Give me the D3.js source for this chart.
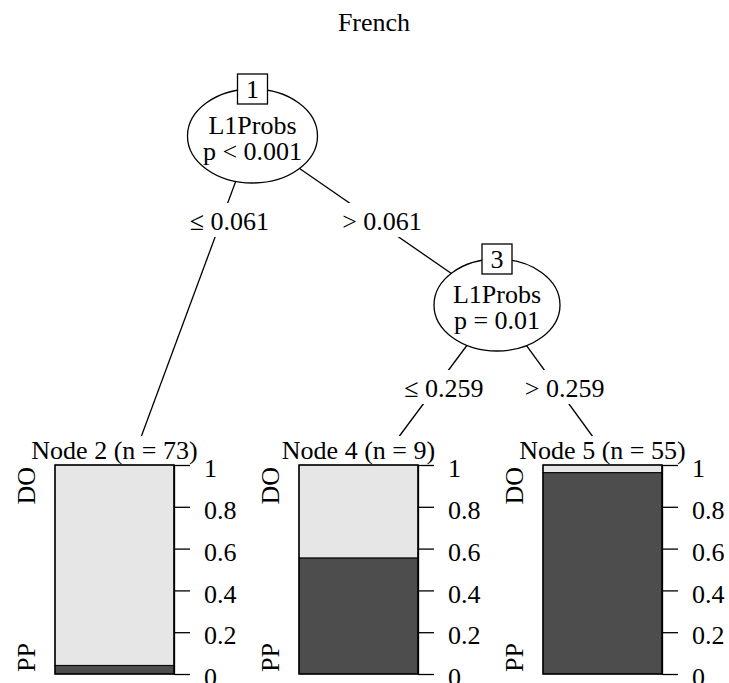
<!DOCTYPE html>
<html>
<head>
<meta charset="utf-8">
<script src="https://cdn.jsdelivr.net/npm/d3@7"></script>
<style>
  body { margin: 0; background: #fff; }
  svg text { font-family: "Liberation Serif", "Times New Roman", serif; fill: #000; }
</style>
</head>
<body>
<svg id="treeSVG" width="729" height="683"></svg>
<script>
//////////////////// DATA ////////////////////
const chartTitle = "French";

// inner nodes
const innerIds = [1, 3];
const innerVars = ["L1Probs", "L1Probs"];
const innerPvals = ["p < 0.001", "p = 0.01"];

// edges (parent -> child) with split labels
const edgeFrom = [1, 1, 3, 3];
const edgeTo = [2, 3, 4, 5];
const edgeLabels = ["\u2264 0.061", "> 0.061", "\u2264 0.259", "> 0.259"];

// terminal nodes
const terminalIds = [2, 4, 5];
const terminalN = [73, 9, 55];
const terminalPP = [3, 5, 53];   // count of class PP in each node
const classLabels = ["PP", "DO"];

// axis
const tickValues = [0, 0.2, 0.4, 0.6, 0.8, 1];
const tickLabels = ["0", "0.2", "0.4", "0.6", "0.8", "1"];


//////////////////// LAYOUT ////////////////////
const svg = d3.select("#treeSVG");
const fontSize = 26;
const colDark = "#4d4d4d";
const colLight = "#e6e6e6";

// inner node positions (tree layout)
const innerPos = new Map([
    [1, { x: 252.5, y: 136, rx: 65, ry: 47 }],
    [3, { x: 497, y: 305, rx: 63, ry: 46 }]
]);

// terminal panels
const xTerm = d3.scalePoint().domain(terminalIds).range([114.5, 602.5]);
const barHalf = 59.5;
const yBar = d3.scaleLinear().domain([0, 1]).range([674, 465]);
const labelBaseline = 459;

// where the edges aim at the terminal panels
const termAim = new Map([[2, 22.5], [4, 32], [5, -1.5]]);
const aimY = 448;

function nodePoint(id) {
    if (innerPos.has(id)) return innerPos.get(id);
    return { x: xTerm(id) + termAim.get(id), y: aimY };
}

// title
svg.append("text")
    .attr("x", 374)
    .attr("y", 31)
    .attr("text-anchor", "middle")
    .style("font-size", fontSize + "px")
    .text(chartTitle);


//////////////////// EDGES ////////////////////
const edges = edgeFrom.map((f, i) => ({ from: nodePoint(f), to: nodePoint(edgeTo[i]), label: edgeLabels[i], level: f }));

svg.append("g")
    .selectAll("line")
    .data(edges)
    .join("line")
    .attr("x1", d => d.from.x)
    .attr("y1", d => d.from.y)
    .attr("x2", d => d.to.x)
    .attr("y2", d => d.to.y)
    .attr("stroke", "#000")
    .attr("stroke-width", 1.3);

// edge labels sit on the line at a fixed height per level
const edgeLabelY = new Map([[1, 220], [3, 387]]);
const edgeLabelG = svg.append("g");
edges.forEach(d => {
    const cy = edgeLabelY.get(d.level);
    const t = (cy - d.from.y) / (d.to.y - d.from.y);
    const cx = d.from.x + t * (d.to.x - d.from.x) + 8;
    const g = edgeLabelG.append("g");
    const txt = g.append("text")
        .attr("x", cx)
        .attr("y", cy + 10)
        .attr("text-anchor", "middle")
        .style("font-size", fontSize + "px")
        .text(d.label);
    const bb = txt.node().getBBox();
    g.insert("rect", () => txt.node())
        .attr("x", bb.x - 2)
        .attr("y", cy - 17)
        .attr("width", bb.width + 4)
        .attr("height", 34)
        .attr("fill", "#fff");
});


//////////////////// INNER NODES ////////////////////
innerIds.forEach((id, i) => {
    const p = innerPos.get(id);
    const g = svg.append("g");
    g.append("ellipse")
        .attr("cx", p.x)
        .attr("cy", p.y)
        .attr("rx", p.rx)
        .attr("ry", p.ry)
        .attr("fill", "#fff")
        .attr("stroke", "#000")
        .attr("stroke-width", 1.3);
    g.append("text")
        .attr("x", p.x)
        .attr("y", p.y - 2)
        .attr("text-anchor", "middle")
        .style("font-size", fontSize + "px")
        .text(innerVars[i]);
    g.append("text")
        .attr("x", p.x)
        .attr("y", p.y + 24)
        .attr("text-anchor", "middle")
        .style("font-size", fontSize + "px")
        .text(innerPvals[i]);
    // id box on top of ellipse
    const by = p.y - p.ry;
    g.append("rect")
        .attr("x", p.x - 15)
        .attr("y", by - 15)
        .attr("width", 30)
        .attr("height", 30)
        .attr("fill", "#fff")
        .attr("stroke", "#000")
        .attr("stroke-width", 1.3);
    g.append("text")
        .attr("x", p.x)
        .attr("y", by + 9)
        .attr("text-anchor", "middle")
        .style("font-size", fontSize + "px")
        .text(id);
});


//////////////////// TERMINAL NODES ////////////////////
terminalIds.forEach((id, i) => {
    const cx = xTerm(id);
    const x0 = cx - barHalf;
    const x1 = cx + barHalf;
    const pp = terminalPP[i] / terminalN[i];
    const segs = [
        { lo: 0, hi: pp, fill: colDark },
        { lo: pp, hi: 1, fill: colLight }
    ];
    const g = svg.append("g");

    // node label with white background (drawn first so the bar sits above)
    const lab = g.append("text")
        .attr("x", cx)
        .attr("y", labelBaseline)
        .attr("text-anchor", "middle")
        .style("font-size", fontSize + "px")
        .text(`Node ${id} (n = ${terminalN[i]})`);
    const bb = lab.node().getBBox();
    g.insert("rect", () => lab.node())
        .attr("x", bb.x)
        .attr("y", bb.y)
        .attr("width", bb.width)
        .attr("height", bb.height)
        .attr("fill", "#fff");

    g.selectAll("rect.seg")
        .data(segs)
        .join("rect")
        .attr("class", "seg")
        .attr("x", x0)
        .attr("y", d => yBar(d.hi))
        .attr("width", x1 - x0)
        .attr("height", d => yBar(d.lo) - yBar(d.hi))
        .attr("fill", d => d.fill)
        .attr("stroke", "#000")
        .attr("stroke-width", 1);

    g.append("rect")
        .attr("x", x0)
        .attr("y", yBar(1))
        .attr("width", x1 - x0)
        .attr("height", yBar(0) - yBar(1))
        .attr("fill", "none")
        .attr("stroke", "#000")
        .attr("stroke-width", 1.3);

    // right axis
    const ax = g.append("g")
        .attr("transform", `translate(${x1},0)`)
        .call(d3.axisRight(yBar)
            .tickValues(tickValues)
            .tickFormat((d, k) => tickLabels[k])
            .tickSize(16)
            .tickSizeOuter(0)
            .tickPadding(14));
    ax.select(".domain").attr("stroke", "#000").attr("stroke-width", 1.3);
    ax.selectAll(".tick line").attr("stroke", "#000").attr("stroke-width", 1.3);
    ax.selectAll(".tick text")
        .attr("fill", "#000")
        .attr("dy", "0.45em")
        .style("font-size", fontSize + "px")
        .style("font-family", "'Liberation Serif', 'Times New Roman', serif");

    // class labels on the left, rotated
    const lx = cx - 80;
    g.append("text")
        .attr("transform", `translate(${lx},${yBar(1) + 2}) rotate(-90)`)
        .attr("text-anchor", "end")
        .style("font-size", fontSize + "px")
        .text(classLabels[1]);
    g.append("text")
        .attr("transform", `translate(${lx},${yBar(0) - 2}) rotate(-90)`)
        .attr("text-anchor", "start")
        .style("font-size", fontSize + "px")
        .text(classLabels[0]);
});
</script>
</body>
</html>
